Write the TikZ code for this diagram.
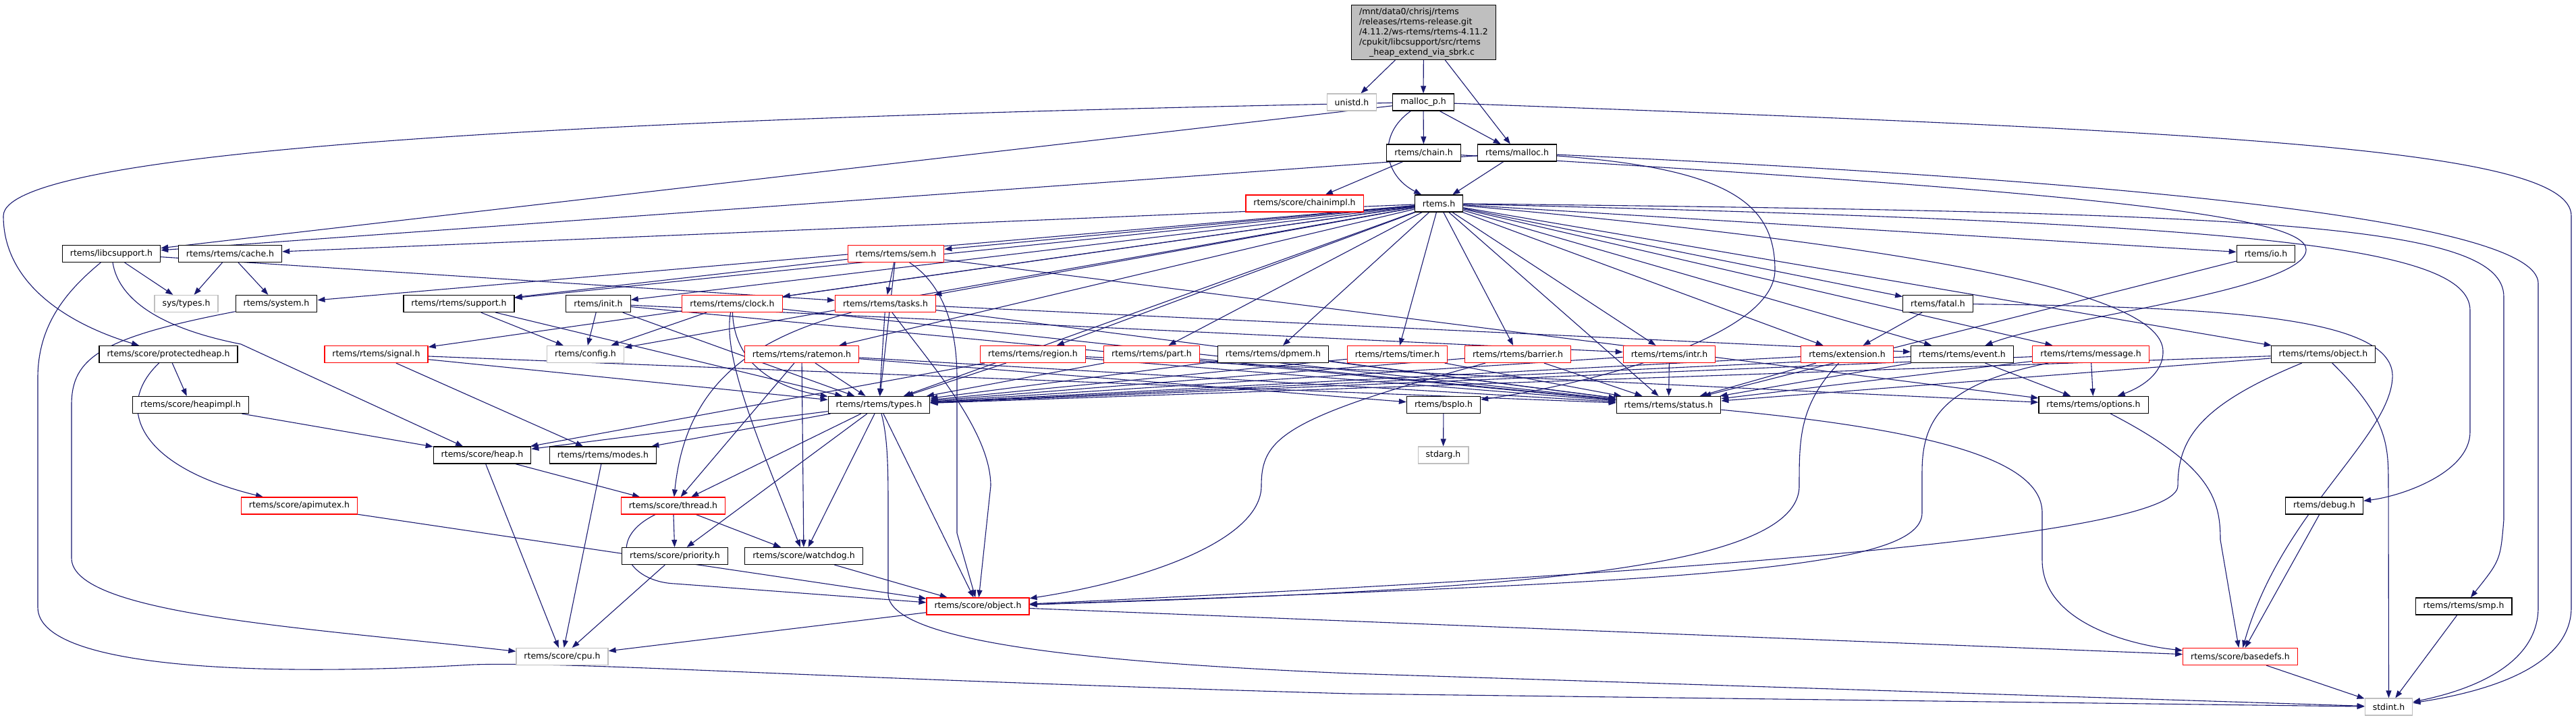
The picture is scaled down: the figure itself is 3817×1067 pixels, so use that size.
\documentclass[tikz,border=0pt]{standalone}
\usepackage{fontspec}
\setmainfont{DejaVu Sans}
\usetikzlibrary{arrows.meta,backgrounds}
\definecolor{edgeblue}{RGB}{25,25,112}
\definecolor{extgray}{RGB}{191,191,191}
\definecolor{truncred}{RGB}{255,0,0}
\tikzset{
  hdr/.style={draw=black, fill=white, line width=1.2pt, minimum height=25pt,
    inner xsep=11.5pt, inner ysep=0pt, font=\fontsize{12.5}{15}\selectfont},
  trunc/.style={hdr, draw=truncred},
  ext/.style={hdr, draw=extgray},
  root/.style={hdr, fill=extgray, align=left, inner ysep=4pt},
  dep/.style={draw=edgeblue, line width=1.1pt, -{Triangle[length=11pt,width=8pt]}},
}
\begin{document}
\begin{tikzpicture}[x=1pt,y=-1pt]
            % the frame
            \useasboundingbox (0,0) rectangle (3817,1067);

            % the file
            \node[root] (main) at (2109.5,48) {/mnt/data0/chrisj/rtems\\/releases/rtems-release.git\\/4.11.2/ws-rtems/rtems-4.11.2\\/cpukit/libcsupport/src/rtems\\\hspace*{15pt}\_heap\_extend\_via\_sbrk.c};

            % the headers
            \node[ext] (unistd) at (2003,151.5) {unistd.h};
            \node[hdr] (mallocp) at (2109,151.5) {malloc\_p.h};
            \node[hdr] (chain) at (2109.5,226.5) {rtems/chain.h};
            \node[hdr] (malloc) at (2248,226.5) {rtems/malloc.h};
            \node[trunc] (chainimpl) at (1933,301.5) {rtems/score/chainimpl.h};
            \node[hdr] (rtemsh) at (2132,301.5) {rtems.h};
            \node[hdr] (libcsupport) at (165,376) {rtems/libcsupport.h};
            \node[hdr] (cache) at (341,376) {rtems/rtems/cache.h};
            \node[trunc] (sem) at (1327.5,376) {rtems/rtems/sem.h};
            \node[hdr] (io) at (3357.5,376) {rtems/io.h};
            \node[ext] (systypes) at (276,450) {sys/types.h};
            \node[hdr] (system) at (409.5,450) {rtems/system.h};
            \node[hdr] (support) at (680,450) {rtems/rtems/support.h};
            \node[hdr] (init) at (886.5,450) {rtems/init.h};
            \node[trunc] (clock) at (1085,450) {rtems/rtems/clock.h};
            \node[trunc] (tasks) at (1312,450) {rtems/rtems/tasks.h};
            \node[hdr] (fatal) at (2871.5,450) {rtems/fatal.h};
            \node[hdr] (protheap) at (249.5,525) {rtems/score/protectedheap.h};
            \node[trunc] (signal) at (557.5,525) {rtems/rtems/signal.h};
            \node[ext] (config) at (867.5,525) {rtems/config.h};
            \node[trunc] (ratemon) at (1188,525) {rtems/rtems/ratemon.h};
            \node[trunc] (region) at (1530.5,525) {rtems/rtems/region.h};
            \node[trunc] (part) at (1706.5,525) {rtems/rtems/part.h};
            \node[hdr] (dpmem) at (1886.5,525) {rtems/rtems/dpmem.h};
            \node[trunc] (timer) at (2070.5,525) {rtems/rtems/timer.h};
            \node[trunc] (barrier) at (2249,525) {rtems/rtems/barrier.h};
            \node[trunc] (intr) at (2473.5,525) {rtems/rtems/intr.h};
            \node[trunc] (extension) at (2737,525) {rtems/extension.h};
            \node[hdr] (event) at (2907.5,525) {rtems/rtems/event.h};
            \node[trunc] (message) at (3098,525) {rtems/rtems/message.h};
            \node[hdr] (robject) at (3442.5,525) {rtems/rtems/object.h};
            \node[hdr] (heapimpl) at (282.5,600) {rtems/score/heapimpl.h};
            \node[hdr] (types) at (1302.5,600) {rtems/rtems/types.h};
            \node[hdr] (bspio) at (2139,600) {rtems/bspIo.h};
            \node[hdr] (status) at (2472.5,600) {rtems/rtems/status.h};
            \node[hdr] (options) at (3102,600) {rtems/rtems/options.h};
            \node[hdr] (heap) at (714.5,674.5) {rtems/score/heap.h};
            \node[hdr] (modes) at (893.5,674.5) {rtems/rtems/modes.h};
            \node[ext] (stdarg) at (2138.5,674.5) {stdarg.h};
            \node[trunc] (apimutex) at (443.5,749.5) {rtems/score/apimutex.h};
            \node[trunc] (thread) at (997.5,749.5) {rtems/score/thread.h};
            \node[hdr] (debug) at (3444,749.5) {rtems/debug.h};
            \node[hdr] (priority) at (1000,824) {rtems/score/priority.h};
            \node[hdr] (watchdog) at (1191,824) {rtems/score/watchdog.h};
            \node[trunc] (sobject) at (1449,898.5) {rtems/score/object.h};
            \node[hdr] (smp) at (3650.5,898.5) {rtems/rtems/smp.h};
            \node[ext] (cpu) at (833,973) {rtems/score/cpu.h};
            \node[trunc] (basedefs) at (3319.5,973) {rtems/score/basedefs.h};
            \node[ext] (stdint) at (3539.5,1047.5) {stdint.h};

            \begin{scope}[on background layer]
            % the straight includes
            \foreach \a/\b in {main/unistd, main/mallocp, main/malloc,
                mallocp/chain, mallocp/malloc, mallocp/libcsupport,
                chain/chainimpl, malloc/rtemsh, malloc/libcsupport,
                rtemsh/cache, rtemsh/system, rtemsh/sem, rtemsh/support, rtemsh/init,
                rtemsh/clock, rtemsh/tasks, rtemsh/config, rtemsh/signal, rtemsh/ratemon,
                rtemsh/types, rtemsh/region, rtemsh/part, rtemsh/dpmem, rtemsh/timer,
                rtemsh/barrier, rtemsh/intr, rtemsh/status, rtemsh/extension, rtemsh/event,
                rtemsh/message, rtemsh/robject, rtemsh/fatal, rtemsh/io,
                libcsupport/systypes, libcsupport/tasks, cache/systypes, cache/system,
                sem/support, sem/tasks, sem/types, sem/options,
                support/config, support/types, init/config, init/types, init/status, init/intr,
                clock/config, clock/status, tasks/types, tasks/status, tasks/event,
                fatal/extension, protheap/heapimpl, heapimpl/heap,
                signal/types, signal/status, signal/modes,
                ratemon/types, ratemon/status, ratemon/bspio, ratemon/thread, ratemon/watchdog,
                region/types, region/status, region/options, region/heap,
                part/types, part/status, dpmem/types, dpmem/status,
                timer/types, timer/status, barrier/types, barrier/status,
                intr/types, intr/status, extension/types, extension/status,
                event/types, event/status, event/options,
                message/types, message/status, message/options,
                robject/types, robject/status, io/status,
                types/heap, types/modes, types/thread, types/priority, types/watchdog, types/sobject,
                bspio/stdarg, heap/cpu, heap/thread, modes/cpu,
                apimutex/sobject, thread/priority, thread/watchdog,
                priority/cpu, watchdog/sobject, sobject/cpu, sobject/basedefs,
                debug/basedefs, smp/stdint, basedefs/stdint}
                \draw[dep] (\a) -- (\b);

            % the curved includes
            \draw[dep] (mallocp) .. controls (2040,200) and (2050,260) .. (rtemsh);
            \draw[dep] (mallocp) .. controls (900,175) and (5,220) .. (5,320)
                .. controls (5,420) and (100,480) .. (protheap);
            \draw[dep] (mallocp) .. controls (3300,195) and (3810,220) .. (3810,320) -- (3810,900)
                .. controls (3810,1000) and (3650,1030) .. (stdint);
            \draw[dep] (malloc) .. controls (3200,270) and (3761,330) .. (3761,420) -- (3761,900)
                .. controls (3761,990) and (3650,1025) .. (stdint);
            \draw[dep] (malloc) .. controls (2560,250) and (2630,300) .. (2630,400)
                .. controls (2630,500) and (2350,570) .. (bspio);
            \draw[dep] (chain) .. controls (3100,285) and (3417,320) .. (3417,370)
                .. controls (3417,430) and (3050,470) .. (event);
            \draw[dep] (libcsupport) .. controls (175,440) and (230,485) .. (357,510) -- (heap);
            \draw[dep] (libcsupport) .. controls (100,430) and (56,480) .. (56,560) -- (56,900)
                .. controls (56,1000) and (450,1000) .. (700,985)
                .. controls (850,980) and (1200,1005) .. (2000,1028) -- (stdint);
            \draw[dep] (system) .. controls (150,500) and (106,530) .. (106,600) -- (106,827)
                .. controls (106,910) and (450,930) .. (cpu);
            \draw[dep] (protheap) .. controls (170,600) and (200,690) .. (apimutex);
            \draw[dep] (sem) .. controls (1395,420) and (1418,480) .. (1418,560) -- (1418,790) -- (sobject);
            \draw[dep] (tasks) .. controls (1380,540) and (1468,640) .. (1468,720) -- (sobject);
            \draw[dep] (tasks) .. controls (1100,505) and (1015,580) .. (thread);
            \draw[dep] (clock) .. controls (1088,540) and (1150,575) .. (types);
            \draw[dep] (clock) .. controls (1070,530) and (1127,660) .. (watchdog);
            \draw[dep] (thread) .. controls (895,800) and (930,862) .. (1000,865) -- (sobject);
            \draw[dep] (extension) .. controls (2666,600) and (2666,650) .. (2666,720)
                .. controls (2666,850) and (2200,875) .. (sobject);
            \draw[dep] (message) .. controls (2880,570) and (2848,620) .. (2848,700) -- (2848,760)
                .. controls (2848,845) and (2500,862) .. (sobject);
            \draw[dep] (robject) .. controls (3260,600) and (3227,650) .. (3227,720)
                .. controls (3227,790) and (2600,845) .. (sobject);
            \draw[dep] (barrier) .. controls (1900,620) and (1869,650) .. (1869,720)
                .. controls (1869,800) and (1700,860) .. (sobject);
            \draw[dep] (robject) .. controls (3539,620) and (3539,660) .. (3539,720) -- (stdint);
            \draw[dep] (types) .. controls (1316,650) and (1316,700) .. (1316,760) -- (1316,880)
                .. controls (1316,960) and (1700,985) .. (2000,998) -- (stdint);
            \draw[dep] (status) .. controls (2900,640) and (3026,690) .. (3026,760) -- (3026,830)
                .. controls (3026,920) and (3150,955) .. (basedefs);
            \draw[dep] (options) .. controls (3276,690) and (3290,740) .. (3290,800) -- (basedefs);
            \draw[dep] (fatal) .. controls (3300,455) and (3550,470) .. (3545,560)
                .. controls (3540,650) and (3380,760) .. (basedefs);
            \draw[dep] (rtemsh) .. controls (2900,370) and (3203,440) .. (3205,520)
                .. controls (3206,555) and (3170,575) .. (options);
            \draw[dep] (rtemsh) .. controls (3300,330) and (3660,360) .. (3660,460) -- (3660,640)
                .. controls (3660,700) and (3560,735) .. (debug);
            \draw[dep] (rtemsh) .. controls (3350,315) and (3710,330) .. (3710,440) -- (3710,770)
                .. controls (3705,830) .. (smp);
            \end{scope}
        \end{tikzpicture}
\end{document}
